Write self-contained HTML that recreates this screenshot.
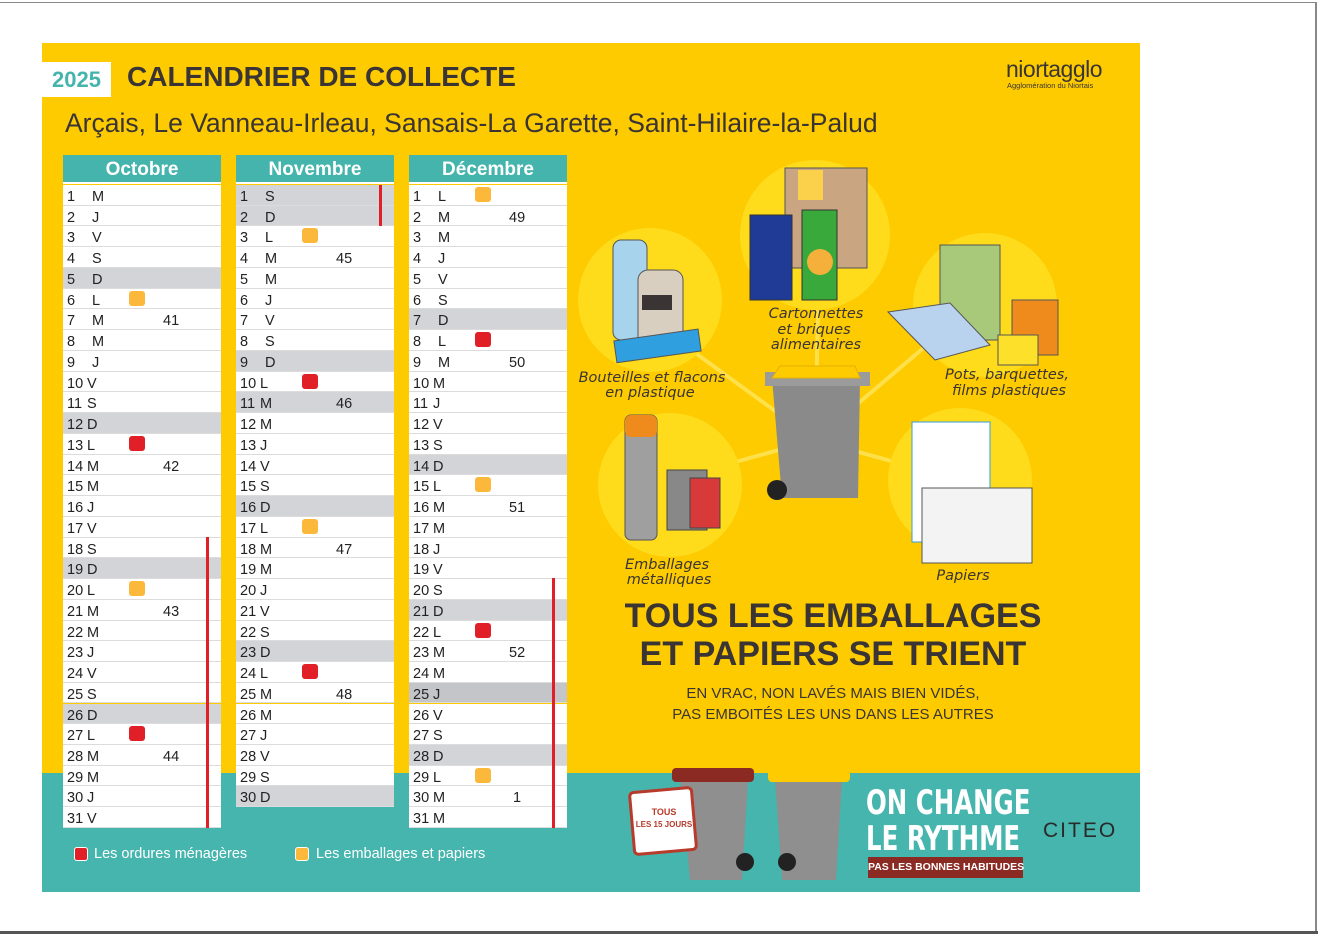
<!DOCTYPE html>
<html><head><meta charset="utf-8"><style>
*{margin:0;padding:0;box-sizing:border-box}
body{width:1318px;height:934px;background:#fff;position:relative;overflow:hidden;font-family:"Liberation Sans","DejaVu Sans",sans-serif}
.a{position:absolute}
.col{position:absolute;top:155px;width:158px}
.hd{height:29px;background:#45b4ac;color:#fff;font-weight:bold;font-size:19px;text-align:center;line-height:30px;border-bottom:2px solid #fff}
.row{position:absolute;left:0;width:158px;height:20.74px;background:#fff;border-bottom:1.5px solid #dcdcdc;font-size:14.5px;color:#222;line-height:20px}
.row.g{background:#d3d4d8}
.row.g2{background:#c4c5c9}
.row span{position:absolute;top:2px}
.sq{position:absolute;top:2px;width:16px;height:15px;border-radius:3px}
.r{background:#e11f26}.y{background:#fbb83a}
.rl{position:absolute;width:3px;background:#e11f26}
</style></head><body>
<div class="a" style="left:0;top:2px;width:1316px;height:1px;background:#888"></div>
<div class="a" style="left:1315px;top:2px;width:2px;height:932px;background:#888"></div>
<div class="a" style="left:0;top:931px;width:1318px;height:3px;background:#555"></div>
<div class="a" style="left:42px;top:43px;width:1098px;height:730px;background:#fdcb00"></div>
<div class="a" style="left:42px;top:773px;width:1098px;height:119px;background:#45b5ad"></div>
<div class="a" style="left:42px;top:62px;width:69px;height:35px;background:#fff;color:#45b4ac;font-weight:bold;font-size:22px;line-height:35px;text-align:center">2025</div>
<div class="a" style="left:127px;top:61px;font-weight:bold;font-size:28px;color:#3a3434">CALENDRIER DE COLLECTE</div>
<div class="a" style="left:65px;top:108px;font-size:26.5px;color:#3a3434">Arçais, Le Vanneau-Irleau, Sansais-La Garette, Saint-Hilaire-la-Palud</div>
<div class="a" style="left:1006px;top:56px;font-size:23px;color:#3a3434;letter-spacing:-0.5px">niortagglo</div>
<div class="a" style="left:1007px;top:81px;font-size:7.5px;color:#3a3434">Agglomération du Niortais</div>

<div id="cals"></div>

<div class="a" style="left:74px;top:847px;width:14px;height:14px;border-radius:3px;background:#e11f26;border:1px solid #fff"></div>
<div class="a" style="left:94px;top:846px;font-size:14.5px;color:#fff">Les ordures ménagères</div>
<div class="a" style="left:295px;top:847px;width:14px;height:14px;border-radius:3px;background:#fbb83a;border:1px solid #fff"></div>
<div class="a" style="left:316px;top:846px;font-size:14.5px;color:#fff">Les emballages et papiers</div>

<svg class="a" style="left:570px;top:130px" width="570" height="470" viewBox="580 130 570 470">
<g stroke="#fde04a" stroke-width="4"><line x1="825" y1="440" x2="660" y2="320"/><line x1="825" y1="440" x2="830" y2="230"/><line x1="825" y1="440" x2="990" y2="300"/><line x1="825" y1="440" x2="680" y2="480"/><line x1="825" y1="440" x2="970" y2="480"/></g>
<g fill="#fedc1c"><circle cx="660" cy="300" r="72"/><circle cx="825" cy="235" r="75"/><circle cx="995" cy="305" r="72"/><circle cx="680" cy="485" r="72"/><circle cx="970" cy="480" r="72"/></g>
<rect x="623" y="240" width="34" height="100" rx="8" fill="#a8d3ec" stroke="#555"/>
<rect x="648" y="270" width="45" height="80" rx="10" fill="#d9cfc0" stroke="#555"/><rect x="652" y="295" width="30" height="15" fill="#3a3434"/>
<rect x="625" y="335" width="85" height="22" fill="#2f9fe0" stroke="#555" transform="rotate(-8 667 346)"/>
<rect x="795" y="168" width="82" height="100" fill="#c9a582" stroke="#555"/><rect x="808" y="170" width="25" height="30" fill="#fbd04a"/>
<rect x="760" y="215" width="42" height="85" fill="#1f3b96" stroke="#333"/>
<rect x="812" y="210" width="35" height="90" fill="#38a93a" stroke="#333"/><circle cx="830" cy="262" r="13" fill="#f4b03b"/>
<rect x="950" y="245" width="60" height="95" fill="#a8c97a" stroke="#555"/>
<polygon points="898,312 960,303 1000,345 945,360" fill="#b9d2ee" stroke="#555"/>
<rect x="1022" y="300" width="46" height="55" fill="#ef8b1d" stroke="#555"/><rect x="1008" y="335" width="40" height="30" fill="#fde02a" stroke="#555"/>
<rect x="635" y="415" width="32" height="125" rx="6" fill="#9f9f9f" stroke="#555"/><rect x="635" y="415" width="32" height="22" rx="6" fill="#ef8b1d"/>
<rect x="677" y="470" width="40" height="60" fill="#888" stroke="#444"/><rect x="700" y="478" width="30" height="50" fill="#d83a3a" stroke="#444"/>
<rect x="922" y="422" width="78" height="120" fill="#fff" stroke="#2f9fe0"/>
<rect x="932" y="488" width="110" height="75" fill="#f3f3f3" stroke="#555"/>
<polygon points="782,378 870,380 868,498 792,498" fill="#8a8a8a"/><rect x="775" y="372" width="105" height="14" fill="#9b9b9b"/><polygon points="790,366 865,366 870,378 782,378" fill="#fdcb00" stroke="#e6b000"/>
<circle cx="787" cy="490" r="10" fill="#222"/>
<g font-family="DejaVu Sans,sans-serif" font-style="italic" font-size="14.5" fill="#3a3434" text-anchor="middle">
<text x="662" y="382">Bouteilles et flacons</text><text x="660" y="397">en plastique</text>
<text x="826" y="318">Cartonnettes</text><text x="824" y="334">et briques</text><text x="826" y="349">alimentaires</text>
<text x="1017" y="379">Pots, barquettes,</text><text x="1019" y="395">films plastiques</text>
<text x="677" y="569">Emballages</text><text x="679" y="584">métalliques</text>
<text x="973" y="580">Papiers</text></g>
</svg>

<div class="a" style="left:600px;top:597px;width:466px;text-align:center;font-weight:bold;font-size:34px;line-height:38px;color:#3a3434">TOUS LES EMBALLAGES<br>ET PAPIERS SE TRIENT</div>
<div class="a" style="left:600px;top:683px;width:466px;text-align:center;font-size:15px;line-height:21px;color:#3a3434">EN VRAC, NON LAVÉS MAIS BIEN VIDÉS,<br>PAS EMBOITÉS LES UNS DANS LES AUTRES</div>

<svg class="a" style="left:620px;top:760px" width="240" height="130" viewBox="620 760 240 130">
<polygon points="680,778 748,778 742,880 690,880" fill="#8f8f8f"/><rect x="672" y="768" width="82" height="14" rx="4" fill="#8a2a22"/>
<polygon points="775,778 842,778 836,880 782,880" fill="#8f8f8f"/><rect x="768" y="768" width="82" height="14" rx="4" fill="#fdcb00"/>
<circle cx="745" cy="862" r="9" fill="#222"/><circle cx="787" cy="862" r="9" fill="#222"/>
<rect x="632" y="790" width="62" height="62" rx="4" fill="#fff" stroke="#b73a2a" stroke-width="3" transform="rotate(-5 663 821)"/>
<text x="664" y="815" font-size="9" font-weight="bold" fill="#b73a2a" text-anchor="middle" font-family="Liberation Sans">TOUS</text>
<text x="664" y="827" font-size="8" font-weight="bold" fill="#b73a2a" text-anchor="middle" font-family="Liberation Sans">LES 15 JOURS</text>
</svg>
<div class="a" style="left:866px;top:785px;font-family:'DejaVu Sans Condensed','Liberation Sans Narrow',sans-serif;font-weight:bold;font-size:34px;line-height:36px;color:#fff;transform:scaleX(0.8);transform-origin:left;white-space:nowrap">ON CHANGE<br>LE RYTHME</div>
<div class="a" style="left:868px;top:857px;width:155px;height:21px;background:#8a2a22;color:#fff;font-size:10.5px;font-weight:bold;text-align:center;line-height:21px;white-space:nowrap">PAS LES BONNES HABITUDES</div>
<div class="a" style="left:1043px;top:819px;font-size:21px;color:#2a2a2a;letter-spacing:2px">CITEO</div>

<script>
var L=['L','M','M','J','V','S','D'];
function cal(x,name,n,start,grays,g2,reds,ys,weeks,line){
 var h='<div class="col" style="left:'+x+'px"><div class="hd">'+name+'</div>';
 for(var d=1;d<=n;d++){
  var t=185-155+(d-1)*20.74, wd=L[(start+d-1)%7];
  var c=grays.indexOf(d)>=0?' g':''; if(g2.indexOf(d)>=0)c=' g2';
  h+='<div class="row'+c+'" style="top:'+t+'px"><span style="left:4px">'+d+'</span><span style="left:'+(d<10?29:24)+'px">'+wd+'</span>';
  if(reds.indexOf(d)>=0)h+='<div class="sq r" style="left:66px"></div>';
  if(ys.indexOf(d)>=0)h+='<div class="sq y" style="left:66px"></div>';
  if(weeks[d])h+='<span style="left:100px">'+weeks[d]+'</span>';
  h+='</div>';
 }
 if(line)h+='<div class="rl" style="left:'+line[0]+'px;top:'+line[1]+'px;height:'+line[2]+'px"></div>';
 h+='</div>';return h;
}
document.getElementById('cals').innerHTML=
 cal(63,'Octobre',31,2,[5,12,19,26],[],[13,27],[6,20],{7:41,14:42,21:43,28:44},[143,382,291])+
 cal(236,'Novembre',30,5,[1,2,9,11,16,23,30],[],[10,24],[3,17],{4:45,11:46,18:47,25:48},[143,30,41])+
 cal(409,'Décembre',31,0,[7,14,21,28],[25],[8,22],[1,15,29],{2:49,9:50,16:51,23:52,30:'&nbsp;1'},[143,423,250]);
</script>
</body></html>
